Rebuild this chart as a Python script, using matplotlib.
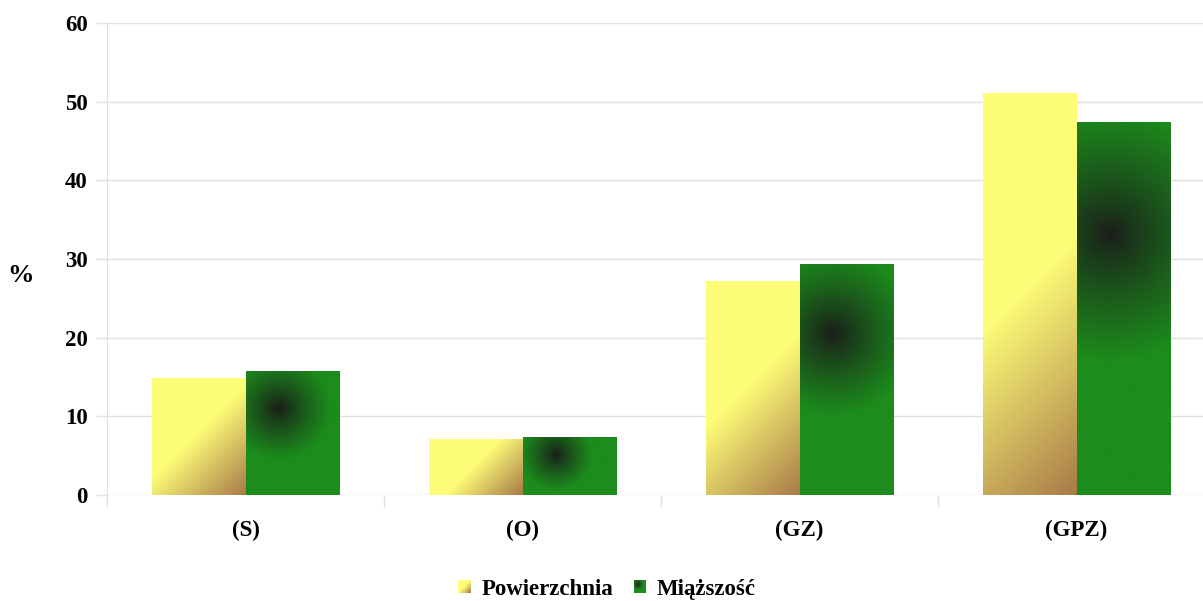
import numpy as np
import matplotlib.pyplot as plt
from matplotlib.patches import Rectangle
from matplotlib.legend_handler import HandlerBase

categories = ['(S)', '(O)', '(GZ)', '(GPZ)']
powierzchnia = [14.75, 7.0, 27.1, 51.1]
miazszosc = [15.75, 7.35, 29.3, 47.4]
series_names = ['Powierzchnia', 'Miąższość']

BROWN = np.array([168, 122, 72]) / 255
YELLOW = np.array([253, 253, 120]) / 255
GREEN = np.array([28, 140, 28]) / 255
DARK = np.array([26, 28, 26]) / 255
GRID = '#e0e0e0'

plt.rcParams['font.family'] = 'Liberation Serif'
plt.rcParams['font.weight'] = 'bold'


def yellow_fill(w, h):
    # linear 45 degree gradient, brown in the bottom-right corner
    nx, ny = max(int(w), 2), max(int(h), 2)
    px, py = np.meshgrid(np.linspace(0, w, nx), np.linspace(0, h, ny))
    d = ((w - px) + py) / np.sqrt(2)
    dc = (w / 2 + h / 2) / np.sqrt(2)
    t = np.clip(d / (dc * 1.05), 0, 1)[..., None]
    return BROWN * (1 - t) + YELLOW * t


def green_fill(w, h):
    # radial gradient, dark spot in the upper part of the bar
    nx, ny = max(int(w), 2), max(int(h), 2)
    px, py = np.meshgrid(np.linspace(0, w, nx), np.linspace(0, h, ny))
    r = 0.33 * np.hypot(w, h)
    s = np.clip(np.hypot(px - 0.35 * w, py - 0.70 * h) / r, 0, 1)[..., None]
    s = s ** 0.85
    return DARK * (1 - s) + GREEN * s


class GradientHandler(HandlerBase):
    def __init__(self, fill):
        super().__init__()
        self.fill = fill

    def create_artists(self, legend, orig_handle, xdescent, ydescent,
                       width, height, fontsize, trans):
        size = width
        x0 = xdescent
        y0 = -ydescent + (height - size) / 2
        n = 10
        img = self.fill(n * 4, n * 4)
        cells = []
        step = size / n
        for i in range(n):
            for j in range(n):
                c = img[int((j + 0.5) * img.shape[0] / n), int((i + 0.5) * img.shape[1] / n)]
                cells.append(Rectangle((x0 + i * step, y0 + j * step), step * 1.02, step * 1.02,
                                       facecolor=c, edgecolor='none', transform=trans))
        return cells


fig = plt.figure(figsize=(12.03, 6.01), dpi=100)
ax = fig.add_axes([107 / 1203, 106 / 601, 1108 / 1203, 472 / 601])

x = np.arange(len(categories))
bw = 0.336
ax.set_xlim(-0.5, len(categories) - 0.5)
ax.set_ylim(0, 60)

bars_p = ax.bar(x - bw / 2, powierzchnia, bw, color=YELLOW, zorder=2, label=series_names[0])
bars_m = ax.bar(x + bw / 2, miazszosc, bw, color=GREEN, zorder=2, label=series_names[1])

# paint gradients over each bar in pixel space
for bars, fill in ((bars_p, yellow_fill), (bars_m, green_fill)):
    for rect in bars:
        x0, y0 = rect.get_x(), rect.get_y()
        x1, y1 = x0 + rect.get_width(), y0 + rect.get_height()
        (p0, q0), (p1, q1) = ax.transData.transform([(x0, y0), (x1, y1)])
        ax.imshow(fill(p1 - p0, q1 - q0), extent=(x0, x1, y0, y1), origin='lower',
                  aspect='auto', interpolation='bilinear', zorder=3)

ax.set_xlim(-0.5, len(categories) - 0.5)
ax.set_ylim(0, 60)

ax.set_yticks(np.arange(0, 61, 10))
ax.yaxis.grid(True, color=GRID, linewidth=1)
ax.set_axisbelow(True)
ax.tick_params(axis='y', length=8, color=GRID, width=1, pad=6, labelsize=16.5)

ax.set_xticks(x)
ax.set_xticklabels(categories)
ax.set_xticks(np.arange(-0.5, len(categories), 1), minor=True)
ax.tick_params(axis='x', which='major', length=0, pad=18, labelsize=16.5)
ax.tick_params(axis='x', which='minor', length=8.5, color=GRID, width=1)

for side in ('top', 'right', 'bottom'):
    ax.spines[side].set_visible(False)
ax.spines['left'].set_color(GRID)

fig.text(21 / 1203, 1 - 276 / 601, '%', fontsize=19, ha='center', va='center')

fig.legend(handles=[bars_p, bars_m], labels=series_names, loc='center',
           bbox_to_anchor=(607 / 1203, 1 - 589 / 601), ncol=2, frameon=False,
           fontsize=16.5, handlelength=0.55, handleheight=0.7, handletextpad=0.45,
           columnspacing=0.9,
           handler_map={bars_p: GradientHandler(yellow_fill),
                        bars_m: GradientHandler(green_fill)})

fig.savefig('out.png', dpi=100)
